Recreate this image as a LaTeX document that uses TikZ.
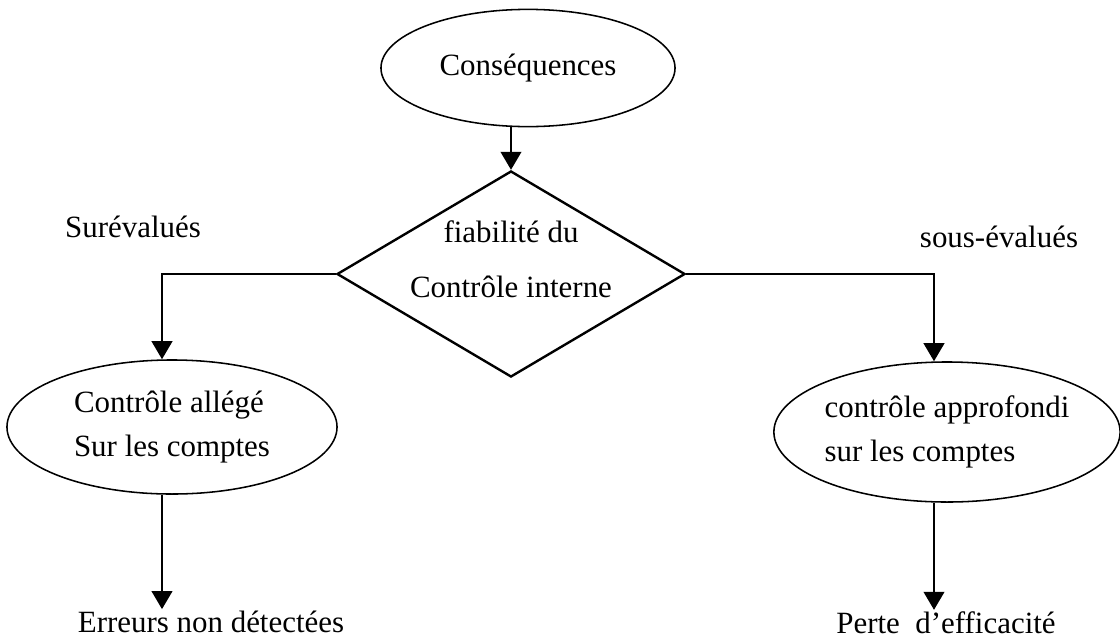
\documentclass[tikz,border=0pt]{standalone}
\usepackage{fontspec}
\setmainfont{Liberation Serif}
\usetikzlibrary{arrows.meta,shapes.geometric}

\begin{document}
\begin{tikzpicture}[x=0.025cm, y=-0.025cm, >={Triangle[length=4.5mm, width=5.2mm]},
  line width=1.1pt, font=\fontsize{22}{31}\selectfont,
  bulle/.style={draw, ellipse, inner sep=0pt, align=left},
  decision/.style={draw, diamond, line width=1.7pt, inner sep=0pt,
    minimum width=87mm, minimum height=51.5mm},
  etiq/.style={inner sep=0pt, outer sep=1pt, anchor=base}]
\useasboundingbox (0,0) rectangle (1120,640);
\node[bulle, minimum width=73.5mm, minimum height=29.3mm] (csq) at (528,68) {Conséquences};
\node[decision] (dia) at (511,274) {};
\node[align=center, font=\fontsize{22}{39}\selectfont] (diatxt) at (511,259) {fiabilité du\\Contrôle interne};
\node[bulle, minimum width=82.5mm, minimum height=33.5mm] (allege) at (172,427) {Contrôle allégé\\Sur les comptes};
\node[bulle, minimum width=85mm, minimum height=35mm] (appro) at (947,432) {contrôle approfondi\\sur les comptes};
\node[etiq] (sur) at (133,237) {Surévalués};
\node[etiq] (sous) at (999,247) {sous-évalués};
\node[etiq] (erreurs) at (211,632) {Erreurs non détectées};
\node[etiq] (perte) at (946,633) {Perte\ \ d’efficacité};
% liaisons
\draw[->] (dia.north |- csq.south) -- (dia.north);
\draw[->] (dia.west) -| ([xshift=-2.5mm]allege.north);
\draw[->] (dia.east) -| ([xshift=-3.25mm]appro.north);
\draw[->] ([xshift=-2.5mm]allege.south) -- ([xshift=-2.5mm]allege.south |- erreurs.north);
\draw[->] ([xshift=-3.25mm]appro.south) -- ([xshift=-3.25mm]appro.south |- perte.north);
\end{tikzpicture}
\end{document}
